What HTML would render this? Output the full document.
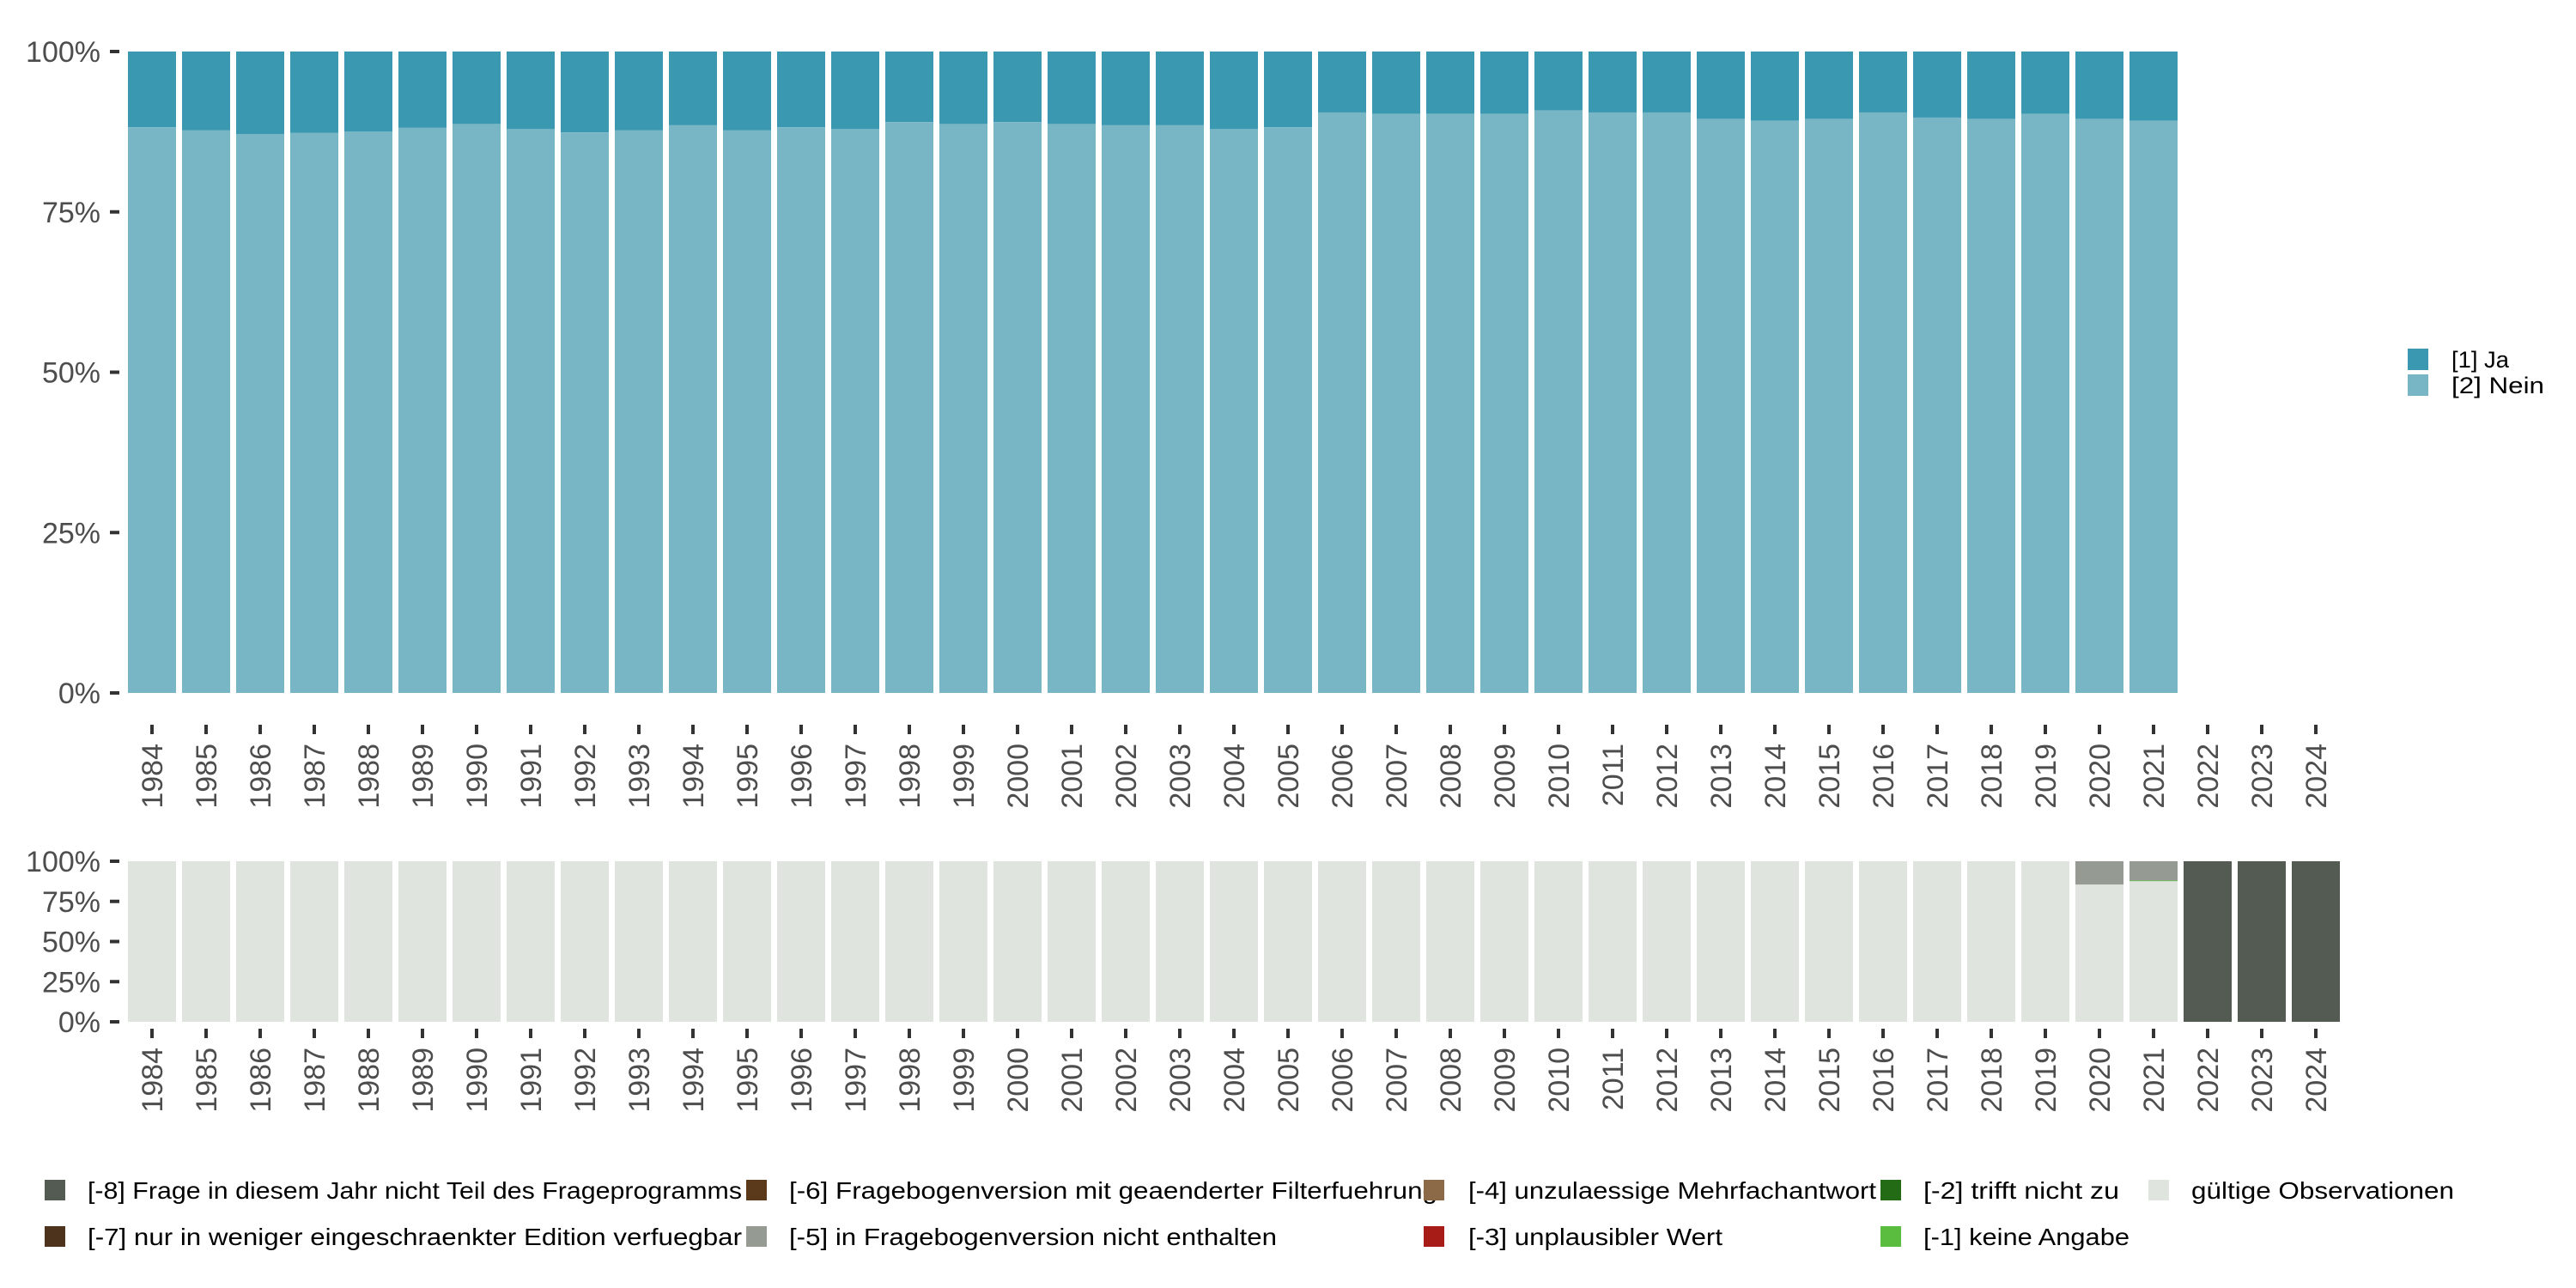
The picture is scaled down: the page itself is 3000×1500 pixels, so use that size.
<!DOCTYPE html>
<html><head><meta charset="utf-8"><style>
html,body{margin:0;padding:0;background:#fff;}
svg{display:block;font-family:"Liberation Sans",sans-serif;}
</style></head><body>
<svg id="chart" width="3000" height="1500" xmlns="http://www.w3.org/2000/svg">
<g id="top-panel"></g>
<g id="bottom-panel"></g>
<g id="legend-right">
  <rect x="2804" y="406" width="24" height="25" fill="#3b98b1"/>
  <text x="2855" y="428" font-size="27" fill="#000" textLength="67" lengthAdjust="spacingAndGlyphs">[1] Ja</text>
  <rect x="2804" y="436" width="24" height="25" fill="#78b6c5"/>
  <text x="2855" y="458" font-size="27" fill="#000" textLength="108" lengthAdjust="spacingAndGlyphs">[2] Nein</text>
</g>
<g id="legend-bottom"></g>
</svg>
<script>
const years = [];
for (let y = 1984; y <= 2024; y++) years.push(String(y));
const neinShare = [88.2,87.7,87.1,87.3,87.5,88.1,88.7,87.9,87.4,87.7,88.5,87.7,88.2,87.9,89.0,88.7,89.0,88.7,88.5,88.5,87.9,88.2,90.5,90.3,90.3,90.3,90.8,90.5,90.5,89.5,89.2,89.5,90.5,89.7,89.5,90.3,89.5,89.2,null,null,null];
const validShare = [100,100,100,100,100,100,100,100,100,100,100,100,100,100,100,100,100,100,100,100,100,100,100,100,100,100,100,100,100,100,100,100,100,100,100,100,85.5,87.6,0,0,0];
const keineAngabeShare = [0,0,0,0,0,0,0,0,0,0,0,0,0,0,0,0,0,0,0,0,0,0,0,0,0,0,0,0,0,0,0,0,0,0,0,0,0,0.4,0,0,0];
const notInVersionShare = [0,0,0,0,0,0,0,0,0,0,0,0,0,0,0,0,0,0,0,0,0,0,0,0,0,0,0,0,0,0,0,0,0,0,0,0,14.5,12.0,0,0,0];
const notInProgramShare = [0,0,0,0,0,0,0,0,0,0,0,0,0,0,0,0,0,0,0,0,0,0,0,0,0,0,0,0,0,0,0,0,0,0,0,0,0,0,100,100,100];
const yTicks = [0,25,50,75,100];
const yTickLabels = ["0%","25%","50%","75%","100%"];

const NS = "http://www.w3.org/2000/svg";
function mk(parent, tag, attrs, txt) {
  const e = document.createElementNS(NS, tag);
  for (const k in attrs) e.setAttribute(k, attrs[k]);
  if (txt !== undefined) e.textContent = txt;
  parent.appendChild(e);
  return e;
}
const pitch = 63.0, bw = 56, x0 = 177;
function xC(i) { return x0 + i * pitch; }

function axes(g, yFn, tickY, labelY, prefix) {
  yTicks.forEach((t, i) => {
    const tk = mk(g, "rect", {x:128, y:yFn(t)-2, width:11, height:4, fill:"#333"});
    
    
    const lb = mk(g, "text", {x:117, y:yFn(t)+12, "font-size":34, fill:"#4d4d4d", "text-anchor":"end"}, yTickLabels[i]);
    
    
  });
  years.forEach((yr, i) => {
    const tk = mk(g, "rect", {x:xC(i)-2, y:tickY, width:4, height:11, fill:"#333"});
    
    
    const lx = xC(i) + 12, ly = labelY;
    const lb = mk(g, "text", {x:lx, y:ly, "font-size":34, fill:"#4d4d4d", "text-anchor":"end", transform:`rotate(-90 ${lx} ${ly})`}, yr);
    
    
  });
}

const topG = document.getElementById("top-panel");
const yT = v => 807 - v / 100 * 747;
years.forEach((yr, i) => {
  const n = neinShare[i];
  if (n === null) return;
  const r1 = mk(topG, "rect", {x:xC(i)-bw/2, y:yT(100), width:bw, height:yT(n)-yT(100), fill:"#3b98b1"});
  
  
  const r2 = mk(topG, "rect", {x:xC(i)-bw/2, y:yT(n), width:bw, height:yT(0)-yT(n), fill:"#78b6c5"});
  
  
});
axes(topG, yT, 844, 866, "top");

const botG = document.getElementById("bottom-panel");
const yB = v => 1190 - v / 100 * 187;
years.forEach((yr, i) => {
  let base = 0;
  const segs = [[validShare[i],"#e0e4df","valid"],[keineAngabeShare[i],"#5bbd3f","keine-angabe"],[notInVersionShare[i],"#959a92","not-in-version"],[notInProgramShare[i],"#545b53","not-in-program"]];
  segs.forEach(s => {
    if (!s[0]) return;
    const r = mk(botG, "rect", {x:xC(i)-bw/2, y:yB(base+s[0]), width:bw, height:yB(base)-yB(base+s[0]), fill:s[1]});
    
    
    base += s[0];
  });
});
axes(botG, yB, 1198, 1220, "bottom");

const lg = document.getElementById("legend-bottom");
const legendItems = [
  [52,102,1386,"#545b53","[-8] Frage in diesem Jahr nicht Teil des Frageprogramms",762],
  [52,102,1440,"#4e331c","[-7] nur in weniger eingeschraenkter Edition verfuegbar",762],
  [869,919,1386,"#5a3a1a","[-6] Fragebogenversion mit geaenderter Filterfuehrung",755],
  [869,919,1440,"#959a92","[-5] in Fragebogenversion nicht enthalten",568],
  [1658,1710,1386,"#8c6a47","[-4] unzulaessige Mehrfachantwort",475],
  [1658,1710,1440,"#a81c17","[-3] unplausibler Wert",296],
  [2190,2240,1386,"#236b14","[-2] trifft nicht zu",228],
  [2190,2240,1440,"#5bbd3f","[-1] keine Angabe",240],
  [2502,2552,1386,"#e0e4df","gültige Observationen",306]
];
legendItems.forEach(it => {
  const k = mk(lg, "rect", {x:it[0], y:it[2]-12, width:24, height:24, fill:it[3]});
  
  
  const t = mk(lg, "text", {x:it[1], y:it[2]+10, "font-size":28, fill:"#000", textLength:it[5], lengthAdjust:"spacingAndGlyphs"}, it[4]);
  
  
});
</script>
</body></html>
